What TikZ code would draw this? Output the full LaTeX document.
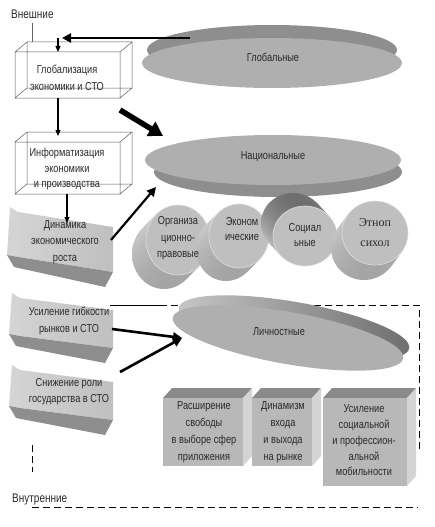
\documentclass[tikz,border=0pt]{standalone}
\usepackage{fontspec}
\setmainfont[FakeStretch=0.8]{Liberation Sans}
\newfontfamily\serifcyr{Liberation Serif}
\usetikzlibrary{arrows.meta}

\definecolor{facegray}{HTML}{B8B8B8}
\definecolor{rimgray}{HTML}{8E8E8E}
\definecolor{sidelight}{HTML}{D4D4D4}
\definecolor{sidemid}{HTML}{A4A4A4}
\definecolor{sidedark}{HTML}{6E6E6E}
\definecolor{topgray}{HTML}{8A8A8A}
\definecolor{inkgray}{HTML}{2A2A2A}

\tikzset{
  txt/.style={font=\fontsize{11.5}{16.5}\selectfont, text=inkgray, align=center, inner sep=0pt},
  wire/.style={draw=black!65, line width=0.5pt},
  flow/.style={-{Triangle[length=6pt,width=5pt]}, line width=1.1pt},
  push/.style={-{Triangle[length=9pt,width=9pt]}, line width=2.6pt},
  bigpush/.style={-{Triangle[length=14pt,width=16pt]}, line width=5.5pt},
  frame/.style={line width=0.8pt, dash pattern=on 7pt off 4pt},
  sidedown/.style={top color=sidelight, middle color=sidedark, bottom color=sidemid},
  sideup/.style={top color=sidedark, middle color=sidemid, bottom color=sidelight},
}

% wireframe box: front corners (#1,#2) and (#3,#4)
\newcommand{\wirebox}[4]{%
  \draw[wire] (#1,#2) rectangle (#3,#4)
    (#1+12,#2-10) rectangle (#3+12,#4-10)
    (#1,#2) -- ++(12,-10) (#3,#2) -- ++(12,-10)
    (#3,#4) -- ++(12,-10) (#1,#4) -- ++(12,-10);}

% slanted slab: corner (#1,#2), width #3, height #4, slope #5
\newcommand{\slab}[5]{%
  \fill[sidelight] (#1,#2) -- (#1+8,#2+5) -- (#1+8,#2+5+#4) -- (#1-3,#2+#4+3) -- cycle;
  \shade[left color=gray!35, right color=facegray!90!white] (#1+8,#2+5) -- (#1+#3,#2+5+#5)
    -- (#1+#3,#2+5+#5+#4) -- (#1+8,#2+5+#4) -- cycle;
  \fill[rimgray] (#1-3,#2+#4+3) -- (#1+8,#2+5+#4) -- (#1+#3,#2+5+#5+#4)
    -- (#1+#3-8,#2+#5+#4+20) -- (#1+4,#2+#4+15) -- cycle;}

% cube: front corners (#1,#2) and (#3,#4)
\newcommand{\cube}[4]{%
  \fill[topgray] (#1,#2) -- ++(9,-10) -- (#3+9,#2-10) -- (#3,#2) -- cycle;
  \fill[sidelight] (#3,#2) -- ++(9,-10) -- (#3+9,#4-10) -- (#3,#4) -- cycle;
  \fill[facegray] (#1,#2) rectangle (#3,#4);}

% disk: face centre (#1,#2), radii #3 #4, depth (#5,#6), side style #7
\newcommand{\disk}[7]{%
  \foreach \k in {12,...,1}
    \shade[#7] ({#1+(#5)*\k/12},{#2+(#6)*\k/12}) ellipse [x radius=#3, y radius=#4];
  \fill[facegray!90!white, draw=white!75!gray, line width=0.6pt] (#1,#2) ellipse [x radius=#3, y radius=#4];}

\begin{document}
\begin{tikzpicture}[x=1pt,y=-1pt]
\useasboundingbox (0,0) rectangle (435,527);

% FRAME: inner factors
\coordinate (frame-a) at (110,305);
\coordinate (frame-b) at (160,305);
\coordinate (frame-c) at (419,305);
\coordinate (frame-d) at (419,452);
\coordinate (inner-a) at (32,445);
\coordinate (inner-b) at (32,472);
\coordinate (inner-c) at (32,507);
\coordinate (inner-d) at (418,507);
\draw[line width=0.8pt] (frame-a) -- (frame-b);
\draw[frame] (frame-b) -- (frame-c) -- (frame-d);
\draw[frame] (inner-a) -- (inner-b);
\draw[frame] (inner-c) -- (inner-d);

% TOP: global level
\fill[rimgray] (272,50) ellipse [x radius=125, y radius=25];
\fill[facegray!95!black] (272,63) ellipse [x radius=130, y radius=25];
\wirebox{15}{52}{120}{98}
\wirebox{15}{142}{120}{194}

% MIDDLE: national level
\fill[rimgray] (278,172) ellipse [x radius=124, y radius=25];
\fill[facegray!95!black] (273,160) ellipse [x radius=128, y radius=25];
\disk{178}{240}{32}{35}{-14}{14}{sidedown}
\disk{239}{236}{30}{32}{-13}{13}{sidedown}
\disk{305}{236}{32}{30}{-12}{-13}{sideup}
\disk{375}{233}{33}{32}{-11}{15}{sidedown}

% LOWER: personal level
\begin{scope}[shift={(294,328)}, rotate=-10]
  \shade[left color=gray!45, right color=sidedark] (0,0) ellipse [x radius=117, y radius=26];
\end{scope}
\begin{scope}[shift={(288,338)}, rotate=-10]
  \fill[facegray!95!black] (0,0) ellipse [x radius=117, y radius=26];
\end{scope}

% LEFT: driving factors
\slab{10}{207}{103}{45}{15}
\slab{12}{293}{101}{38}{12}
\slab{12}{365}{101}{38}{12}

% BOTTOM: personal outcomes
\cube{163}{398}{243}{466}
\cube{252}{398}{312}{466}
\cube{323}{398}{407}{486}

% Labels
\node[txt, font=\fontsize{12.5}{15}\selectfont, anchor=west] (outer) at (11,14) {Внешние};
\node[txt, font=\fontsize{12.5}{15}\selectfont, anchor=west] (inner) at (12,499) {Внутренние};
\node[txt] (glob) at (273,57) {Глобальные};
\node[txt] (nat) at (273,157) {Национальные};
\node[txt] (pers) at (279,332) {Личностные};
\node[txt] (globbox) at (67,78) {Глобализация\\экономики и СТО};
\node[txt, font=\fontsize{11.5}{15.5}\selectfont] (infobox) at (67,169.5) {Информатизация\\экономики\\и производства};
\node[txt] (dynbox) at (65,242) {Динамика\\экономического\\роста};
\node[txt] (flexbox) at (69,321) {Усиление гибкости\\рынков и СТО};
\node[txt] (statebox) at (69,391.5) {Снижение роли\\государства в СТО};
\node[txt] (org) at (178,238.5) {Организа\\ционно-\\правовые};
\node[txt, font=\fontsize{11.5}{15}\selectfont] (econ) at (242,229.5) {Эконом\\ические};
\node[txt, font=\fontsize{11.5}{15}\selectfont] (soc) at (305,235.5) {Социал\\ьные};
\node[txt, font=\serifcyr\fontsize{12}{20}\selectfont] (ethno) at (375,233) {Этноп\\сихол};
\node[txt, font=\fontsize{11.5}{17}\selectfont] (freedom) at (204,432.5) {Расширение\\свободы\\в выборе сфер\\приложения};
\node[txt, font=\fontsize{11.5}{17}\selectfont] (entry) at (283,432.5) {Динамизм\\входа\\и выхода\\на рынке};
\node[txt, font=\fontsize{11.5}{15.75}\selectfont] (mobility) at (364,440.5) {Усиление\\социальной\\и профессион-\\альной\\мобильности};

% Connectors
\coordinate (outer-stem) at (32,23);
\coordinate (globbox-back) at (32,42);
\coordinate (glob-tail) at (190,38);
\coordinate (glob-tip) at (62,38);
\coordinate (glob-bend) at (58,38);
\coordinate (globbox-top) at (58,52);
\coordinate (globbox-bot) at (58,98);
\coordinate (infobox-top) at (58,136);
\coordinate (infobox-bot) at (67,194);
\coordinate (dynbox-top) at (67,223);
\coordinate (dynbox-east) at (111,240);
\coordinate (nat-west) at (156,187);
\coordinate (globbox-corner) at (120,110);
\coordinate (nat-nw) at (163,136);
\coordinate (flexbox-east) at (112,329);
\coordinate (statebox-east) at (120,372);
\coordinate (pers-west) at (182,338);

\draw[black!60, line width=0.6pt] (outer-stem) -- (globbox-back);
\draw[push] (glob-tail) -- (glob-tip);
\draw[flow] (glob-bend) -- (globbox-top);
\draw[flow] (globbox-bot) -- (infobox-top);
\draw[flow] (infobox-bot) -- (dynbox-top);
\draw[push, line width=2.2pt] (dynbox-east) -- (nat-west);
\draw[bigpush] (globbox-corner) -- (nat-nw);
\draw[push] (flexbox-east) -- (pers-west);
\draw[push] (statebox-east) -- (pers-west);
\end{tikzpicture}
\end{document}
